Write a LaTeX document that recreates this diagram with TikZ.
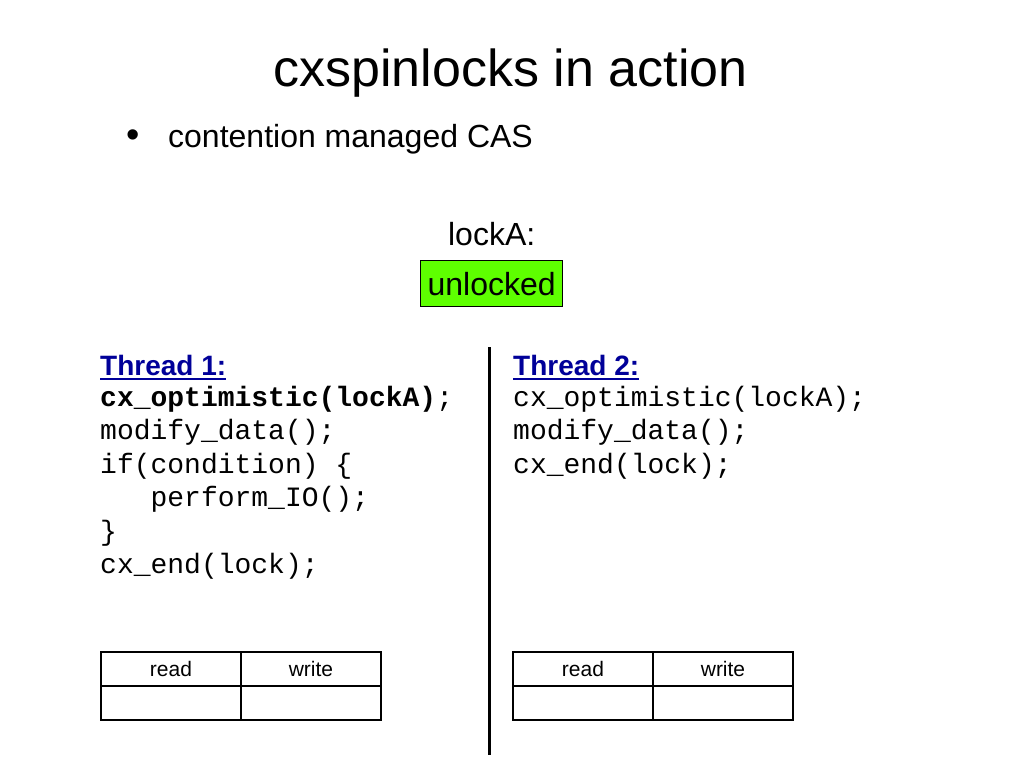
\documentclass[tikz,border=0pt]{standalone}
\usepackage{fontspec}
\setmainfont{Liberation Sans}
\setmonofont{Liberation Mono}
\usetikzlibrary{positioning}
\definecolor{lockgreen}{RGB}{94,255,0}
\definecolor{threadblue}{RGB}{0,0,153}
\newcommand*{\fsz}[1]{\fontsize{#1}{#1}\selectfont}
\newcommand*{\lnh}{33.4}

\begin{document}
\begin{tikzpicture}[x=1pt,y=-1pt,
    code/.style={font=\fsz{28}\ttfamily, anchor=base west, inner sep=0pt},
    head/.style={font=\fsz{28}\bfseries, text=threadblue, anchor=base west, inner sep=0pt},
    cell/.style={draw, line width=2pt, minimum width=140pt, minimum height=34pt, inner sep=0pt, font=\fsz{21}}]
    \useasboundingbox [fill=white] (0,0) rectangle (1024,768);
    % title and bullet
    \node [font=\fsz{52}, anchor=base] (title) at (510.5,86.7) {cxspinlocks in action};
    \node [font=\fsz{38}, anchor=base, inner sep=0pt] (bul) at (133,147) {\textbullet};
    \node [font=\fsz{32}, anchor=base west, inner sep=0pt] (sub) at (168,147) {contention managed CAS};
    % the lock
    \node [font=\fsz{32}, anchor=base] (lbl) at (491.7,245) {lockA:};
    \node [font=\fsz{32}, fill=lockgreen, draw, line width=0.8pt, minimum width=142pt, minimum height=46pt, inner sep=0pt] (lock) at (491.7,283.7) {unlocked};
    % separator
    \coordinate (sepTop) at (489,347);
    \coordinate (sepBot) at (489,755);
    \draw [line width=3pt] (sepTop) -- (sepBot);
    % thread 1
    \node [head] (th1) at (100,375) {Thread 1:};
    \draw [threadblue, line width=2pt] ([yshift=-4pt]th1.south west) -- ([yshift=-4pt]th1.south east);
    \foreach \ln [count=\i] in {{\textbf{cx\_optimistic(lockA)};}, modify\_data();, if(condition) \{, \phantom{xxx}perform\_IO();, \}, cx\_end(lock);}
        \node [code] (ta\i) at (100,373.1+\lnh*\i) {\ln};
    % thread 2
    \node [head] (th2) at (513,375) {Thread 2:};
    \draw [threadblue, line width=2pt] ([yshift=-4pt]th2.south west) -- ([yshift=-4pt]th2.south east);
    \foreach \ln [count=\i] in {cx\_optimistic(lockA);, modify\_data();, cx\_end(lock);}
        \node [code] (tb\i) at (513,373.1+\lnh*\i) {\ln};
    % read/write tables
    \node [cell] (rdA) at (171,669) {read};
    \node [cell] (wrA) at (311,669) {write};
    \node [cell] (rvA) at (171,703) {};
    \node [cell] (wvA) at (311,703) {};
    \node [cell] (rdB) at (583,669) {read};
    \node [cell] (wrB) at (723,669) {write};
    \node [cell] (rvB) at (583,703) {};
    \node [cell] (wvB) at (723,703) {};
\end{tikzpicture}
\end{document}
